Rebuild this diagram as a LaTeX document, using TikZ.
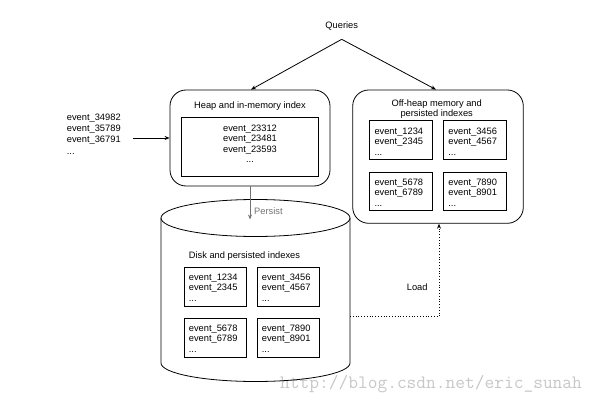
\documentclass[tikz,border=0pt]{standalone}
\usepackage{fontspec}
\setmainfont{Liberation Sans}
\usetikzlibrary{arrows.meta}
\newcommand\fs{\fontsize{9.3}{10.5}\selectfont}
\tikzset{
  lw/.style={line width=0.8pt},
  rbox/.style={draw, lw, rounded corners=16pt, inner sep=0pt},
  ibox/.style={draw, lw, inner sep=0pt},
  lbl/.style={font=\fs, inner sep=0pt},
  lst/.style={font=\fs, inner sep=0pt, align=left, anchor=north west},
  arr/.style={lw, -{Stealth[length=5pt,width=4pt]}},
}
\begin{document}
\begin{tikzpicture}[x=1pt,y=-1pt]
\useasboundingbox (0,0) rectangle (599,404);
% watermark
\node[font=\ttfamily\fontsize{18.9}{20}\selectfont, text=black!22, inner sep=0pt, anchor=base west] (wm) at (280,388) {http://blog.csdn.net/eric\_sunah};
% queries
\node[lbl, anchor=base] (queries) at (341.7,29) {Queries};
\coordinate (qa) at (341.7,39.3);
% heap box
\node[rbox, minimum width=160pt, minimum height=96pt] (heap) at (250,138) {};
\node[lbl, anchor=base] (heapt) at (250,108.3) {Heap and in-memory index};
\node[ibox, minimum width=136.6pt, minimum height=59pt] (heapi) at (250,147.2) {};
\node[lst, align=center, anchor=north] (heapl) at (250,124.6) {event\_23312\\event\_23481\\event\_23593\\...};
% off-heap box
\node[rbox, minimum width=170.6pt, minimum height=133.3pt] (off) at (438,156.65) {};
\node[lbl, align=center, anchor=north] (offt) at (436.7,99.3) {Off-heap memory and\\persisted indexes};
\node[ibox, minimum width=63.2pt, minimum height=38.6pt] (o1) at (401.1,140) {};
\node[ibox, minimum width=63.2pt, minimum height=38.6pt] (o2) at (475,140) {};
\node[ibox, minimum width=63.2pt, minimum height=38.6pt] (o3) at (401.1,191.35) {};
\node[ibox, minimum width=63.2pt, minimum height=38.6pt] (o4) at (475,191.35) {};
\node[lst] (o1t) at (374.3,127.6) {event\_1234\\event\_2345\\...};
\node[lst] (o2t) at (448.2,127.6) {event\_3456\\event\_4567\\...};
\node[lst] (o3t) at (374.3,178.6) {event\_5678\\event\_6789\\...};
\node[lst] (o4t) at (448.2,178.6) {event\_7890\\event\_8901\\...};
% cylinder
\draw[lw] (255.5,218) ellipse [x radius=94.5, y radius=18.5];
\draw[lw] (161,218) -- (161,363) arc[start angle=180, end angle=0, x radius=94.5, y radius=18.5] -- (350,218);
\node[lbl, anchor=base west] (diskt) at (188.7,258.5) {Disk and persisted indexes};
\node[ibox, minimum width=62.7pt, minimum height=39.4pt] (d1) at (215.35,287) {};
\node[ibox, minimum width=62.7pt, minimum height=39.4pt] (d2) at (288.35,287) {};
\node[ibox, minimum width=62.7pt, minimum height=39.4pt] (d3) at (215.35,338) {};
\node[ibox, minimum width=62.7pt, minimum height=39.4pt] (d4) at (288.35,338) {};
\node[lst] (d1t) at (188.7,273.6) {event\_1234\\event\_2345\\...};
\node[lst] (d2t) at (261.7,273.6) {event\_3456\\event\_4567\\...};
\node[lst] (d3t) at (188.7,324.6) {event\_5678\\event\_6789\\...};
\node[lst] (d4t) at (261.7,324.6) {event\_7890\\event\_8901\\...};
% input events
\node[lst, font=\fontsize{9.3}{11.3}\selectfont] (inp) at (66.7,113.5) {event\_34982\\event\_35789\\event\_36791\\...};
\coordinate (ia) at (133.3,138);
% connectors
\draw[arr] (qa) -- ([xshift=1pt]heap.north);
\draw[arr] (qa) -- ([xshift=-2pt]off.north);
\draw[arr] (ia) -- (heap.west);
\coordinate (pe) at (250,219.5);
\draw[lw, black!55, -{Stealth[length=5pt,width=4pt]}] (heap.south) -- (pe);
\node[lbl, text=black!55, anchor=base west] (persist) at (254,214) {Persist};
\coordinate (ls) at (350,316.7);
\draw[lw, dotted, -{Stealth[length=5pt,width=4pt]}] (ls) -| ([xshift=1pt]off.south);
\node[lbl, anchor=base west] (load) at (406.7,290) {Load};
\end{tikzpicture}
\end{document}
